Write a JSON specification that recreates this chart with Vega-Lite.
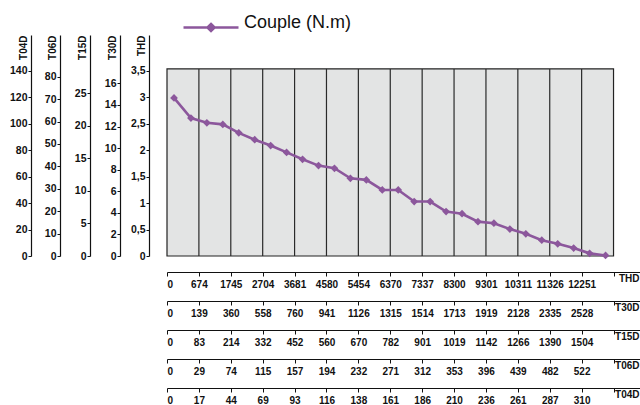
{
  "$schema": "https://vega.github.io/schema/vega-lite/v6.json",
  "autosize": {"type": "none"},
  "padding": {"left": 167, "top": 35, "right": 0, "bottom": 149},
  "width": 473,
  "height": 221,
  "background": "white",
  "config": {
    "view": {"stroke": null},
    "axis": {
      "grid": false,
      "domainColor": "#111",
      "domainWidth": 1.2,
      "tickColor": "#111",
      "tickWidth": 1,
      "labelColor": "#111",
      "labelFontWeight": "bold",
      "titleColor": "#111",
      "titleFontWeight": "bold",
      "titleFontSize": 10,
      "titleFont": "Liberation Sans Narrow, Liberation Sans",
      "labelFont": "Liberation Sans Narrow, Liberation Sans"
    },
    "axisLeft": {
      "tickSize": 3,
      "labelPadding": 1,
      "labelFontSize": 10.5,
      "titleX": -3,
      "titleY": 0,
      "titleAngle": 270,
      "titleAlign": "right",
      "titleBaseline": "bottom"
    },
    "axisBottom": {
      "tickSize": 4,
      "labelPadding": 3,
      "labelFontSize": 10,
      "values": [0, 1, 2, 3, 4, 5, 6, 7, 8, 9, 10, 11, 12, 13],
      "titleX": 472,
      "titleY": 1,
      "titleAngle": 0,
      "titleAlign": "right",
      "titleBaseline": "top"
    }
  },
  "resolve": {
    "scale": {"y": "independent", "x": "shared"},
    "axis": {"y": "independent", "x": "independent"}
  },
  "layer": [
    {
      "data": {"values": [{"a": 0}]},
      "mark": {"type": "rect", "fill": "#e3e4e4", "stroke": "#222", "strokeWidth": 1.2},
      "encoding": {
        "x": {"datum": 0, "type": "quantitative", "scale": {"domain": [0, 14.83], "nice": false, "zero": false}, "axis": null},
        "x2": {"datum": 14},
        "y": {"datum": 0, "type": "quantitative", "scale": {"domain": [0, 4.181], "nice": false}, "axis": null},
        "y2": {"datum": 3.54}
      }
    },
    {
      "data": {"values": [{"col": 1}, {"col": 2}, {"col": 3}, {"col": 4}, {"col": 5}, {"col": 6}, {"col": 7}, {"col": 8}, {"col": 9}, {"col": 10}, {"col": 11}, {"col": 12}, {"col": 13}]},
      "mark": {"type": "rule", "color": "#2a2a2a", "strokeWidth": 1.2},
      "encoding": {
        "x": {"field": "col", "type": "quantitative", "scale": {"domain": [0, 14.83], "nice": false, "zero": false}, "axis": null},
        "y": {"datum": 0, "type": "quantitative", "scale": {"domain": [0, 4.181], "nice": false}, "axis": null},
        "y2": {"datum": 3.54}
      }
    },
    {
      "data": {"values": [
        {"x": 0.22, "y": 2.99}, {"x": 0.75, "y": 2.61}, {"x": 1.25, "y": 2.52}, {"x": 1.75, "y": 2.49},
        {"x": 2.25, "y": 2.33}, {"x": 2.75, "y": 2.20}, {"x": 3.25, "y": 2.09}, {"x": 3.75, "y": 1.96},
        {"x": 4.25, "y": 1.83}, {"x": 4.75, "y": 1.71}, {"x": 5.25, "y": 1.66}, {"x": 5.75, "y": 1.47},
        {"x": 6.25, "y": 1.44}, {"x": 6.75, "y": 1.25}, {"x": 7.25, "y": 1.25}, {"x": 7.75, "y": 1.03},
        {"x": 8.25, "y": 1.03}, {"x": 8.75, "y": 0.84}, {"x": 9.25, "y": 0.80}, {"x": 9.75, "y": 0.65},
        {"x": 10.25, "y": 0.62}, {"x": 10.75, "y": 0.51}, {"x": 11.25, "y": 0.42}, {"x": 11.75, "y": 0.30},
        {"x": 12.25, "y": 0.23}, {"x": 12.75, "y": 0.15}, {"x": 13.25, "y": 0.05}, {"x": 13.75, "y": 0.01}
      ]},
      "mark": {"type": "line", "strokeWidth": 2.6, "point": {"shape": "diamond", "size": 60, "filled": true}},
      "encoding": {
        "x": {"field": "x", "type": "quantitative", "scale": {"domain": [0, 14.83], "nice": false, "zero": false},
          "axis": {"orient": "bottom", "offset": 16, "title": "THD",
            "labelExpr": "['0','674','1745','2704','3681','4580','5454','6370','7337','8300','9301','10311','11326','12251'][datum.value]"}},
        "y": {"field": "y", "type": "quantitative", "scale": {"domain": [0, 4.181], "nice": false},
          "axis": {"orient": "left", "offset": 18, "title": "THD", "values": [0, 0.5, 1, 1.5, 2, 2.5, 3, 3.5],
            "labelExpr": "replace(format(datum.value, '~g'), '.', ',')"}},
        "color": {"datum": "Couple (N.m)", "type": "nominal", "scale": {"range": ["#8c579c"]},
          "legend": {"orient": "none", "legendX": 15, "legendY": -36.5, "title": null,
            "symbolType": "M-1,0H1M0,-0.13L0.13,0L0,0.13L-0.13,0Z", "symbolSize": 3025,
            "symbolStrokeWidth": 2.5, "symbolFillColor": "#8c579c", "symbolStrokeColor": "#8c579c",
            "labelFontSize": 18, "labelFont": "Liberation Sans", "labelColor": "#111", "labelOffset": 4,
            "labelBaseline": "alphabetic", "labelLimit": 300}}
      }
    },
    {
      "data": {"values": [{"v": 0}]},
      "mark": {"type": "point", "opacity": 0},
      "encoding": {
        "x": {"field": "v", "type": "quantitative", "scale": {"domain": [0, 14.83], "nice": false, "zero": false},
          "axis": {"orient": "bottom", "offset": 45, "title": "T30D",
            "labelExpr": "['0','139','360','558','760','941','1126','1315','1514','1713','1919','2128','2335','2528'][datum.value]"}},
        "y": {"field": "v", "type": "quantitative", "scale": {"domain": [0, 20.48], "nice": false},
          "axis": {"orient": "left", "offset": 47, "title": "T30D", "values": [0, 2, 4, 6, 8, 10, 12, 14, 16]}}
      }
    },
    {
      "data": {"values": [{"v": 0}]},
      "mark": {"type": "point", "opacity": 0},
      "encoding": {
        "x": {"field": "v", "type": "quantitative", "scale": {"domain": [0, 14.83], "nice": false, "zero": false},
          "axis": {"orient": "bottom", "offset": 74, "title": "T15D",
            "labelExpr": "['0','83','214','332','452','560','670','782','901','1019','1142','1266','1390','1504'][datum.value]"}},
        "y": {"field": "v", "type": "quantitative", "scale": {"domain": [0, 33.96], "nice": false},
          "axis": {"orient": "left", "offset": 77, "title": "T15D", "values": [0, 5, 10, 15, 20, 25]}}
      }
    },
    {
      "data": {"values": [{"v": 0}]},
      "mark": {"type": "point", "opacity": 0},
      "encoding": {
        "x": {"field": "v", "type": "quantitative", "scale": {"domain": [0, 14.83], "nice": false, "zero": false},
          "axis": {"orient": "bottom", "offset": 103, "title": "T06D",
            "labelExpr": "['0','29','74','115','157','194','232','271','312','353','396','439','482','522'][datum.value]"}},
        "y": {"field": "v", "type": "quantitative", "scale": {"domain": [0, 98.6], "nice": false},
          "axis": {"orient": "left", "offset": 107, "title": "T06D", "values": [0, 10, 20, 30, 40, 50, 60, 70, 80]}}
      }
    },
    {
      "data": {"values": [{"v": 0}]},
      "mark": {"type": "point", "opacity": 0},
      "encoding": {
        "x": {"field": "v", "type": "quantitative", "scale": {"domain": [0, 14.83], "nice": false, "zero": false},
          "axis": {"orient": "bottom", "offset": 132, "title": "T04D",
            "labelExpr": "['0','17','44','69','93','116','138','161','186','210','236','261','287','310'][datum.value]"}},
        "y": {"field": "v", "type": "quantitative", "scale": {"domain": [0, 167.2], "nice": false},
          "axis": {"orient": "left", "offset": 136, "title": "T04D", "values": [0, 20, 40, 60, 80, 100, 120, 140]}}
      }
    }
  ]
}
